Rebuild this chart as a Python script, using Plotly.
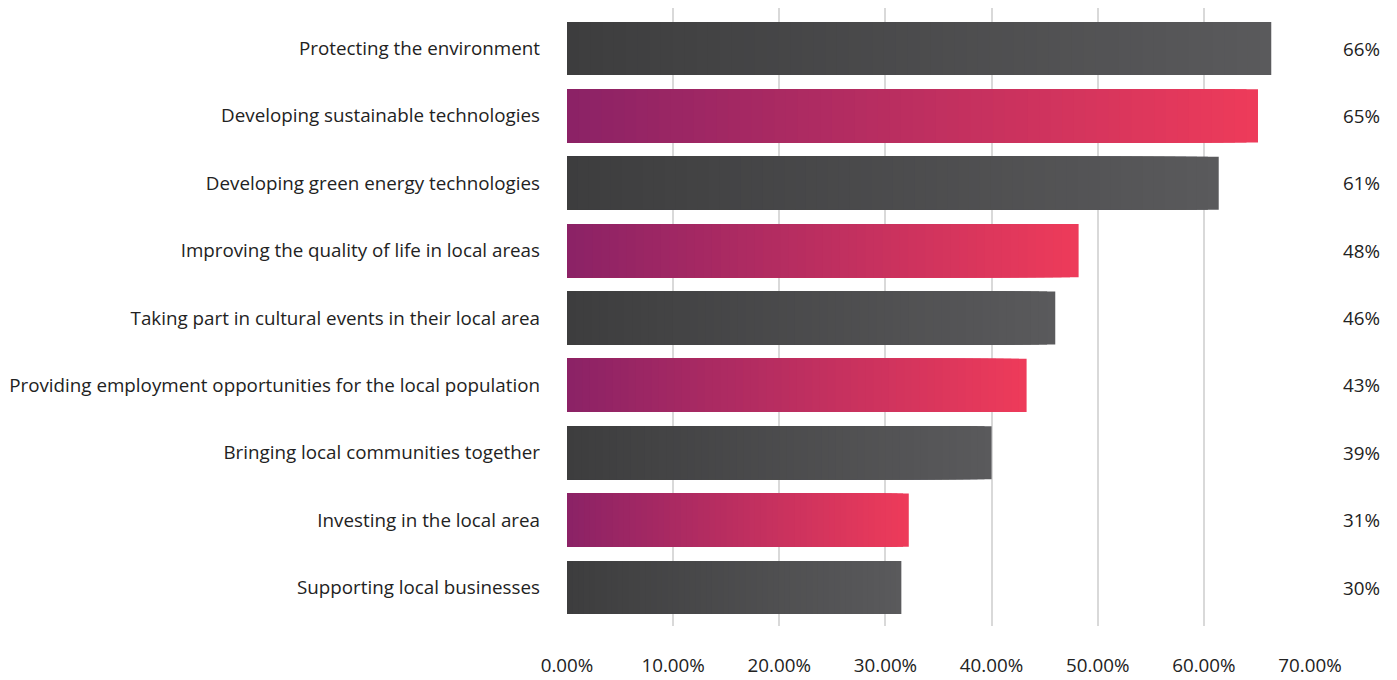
import plotly.graph_objects as go

categories = [
    "Protecting the environment",
    "Developing sustainable technologies",
    "Developing green energy technologies",
    "Improving the quality of life in local areas",
    "Taking part in cultural events in their local area",
    "Providing employment opportunities for the local population",
    "Bringing local communities together",
    "Investing in the local area",
    "Supporting local businesses",
]
values = [0.6635, 0.651, 0.614, 0.482, 0.460, 0.433, 0.400, 0.322, 0.315]
value_labels = ["66%", "65%", "61%", "48%", "46%", "43%", "39%", "31%", "30%"]
styles = ["dark", "pink", "dark", "pink", "dark", "pink", "dark", "pink", "dark"]
x_ticks = [0, 0.1, 0.2, 0.3, 0.4, 0.5, 0.6, 0.7]
x_tick_labels = ["0.00%", "10.00%", "20.00%", "30.00%", "40.00%", "50.00%", "60.00%", "70.00%"]

gradients = {
    "dark": ((0x3d, 0x3d, 0x3e), (0x5a, 0x5a, 0x5c)),
    "pink": ((0x8b, 0x22, 0x66), (0xee, 0x3b, 0x5a)),
}

def mix(c0, c1, t):
    return "rgb(%d,%d,%d)" % tuple(round(a + (b - a) * t) for a, b in zip(c0, c1))

N = 60
fig = go.Figure()
# overlaid bars of decreasing length produce a seamless left-to-right gradient
for k in range(N, 0, -1):
    t = (k - 0.5) / N
    fig.add_trace(go.Bar(
        y=categories,
        x=[v * k / N for v in values],
        orientation="h",
        width=0.787,
        marker=dict(color=[mix(*gradients[s], t) for s in styles], line=dict(width=0)),
        hoverinfo="skip",
        showlegend=False,
    ))

FONT = dict(family="Open Sans", size=18.8, color="#222222")

for cat, lab in zip(categories, value_labels):
    fig.add_annotation(
        x=1, xref="paper", y=cat, yref="y",
        text=lab, showarrow=False, xanchor="center", xshift=51,
        font=FONT,
    )

fig.update_layout(
    barmode="overlay",
    width=1397, height=680,
    margin=dict(l=559, r=95, t=0, b=62),
    plot_bgcolor="white", paper_bgcolor="white",
    font=FONT,
    xaxis=dict(
        range=[0, 0.7], tickvals=x_ticks, ticktext=x_tick_labels,
        showgrid=True, gridcolor="#d9d9d9", gridwidth=2,
        zeroline=False, showline=False, ticks="", ticklabelstandoff=26,
        fixedrange=True,
    ),
    yaxis=dict(
        categoryorder="array", categoryarray=categories[::-1],
        range=[-0.5714, 8.6011],
        showgrid=False, zeroline=False, showline=False, ticks="",
        ticklabelstandoff=26, fixedrange=True,
    ),
)

fig.write_html("out.html")
